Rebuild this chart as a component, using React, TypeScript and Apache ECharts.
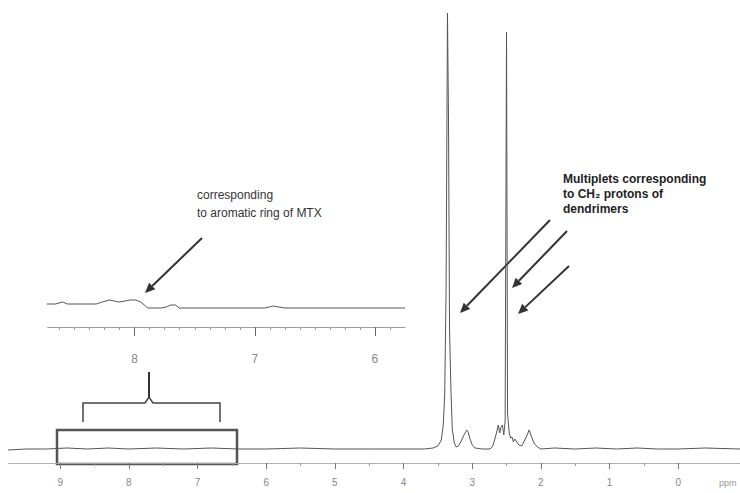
import { useEffect, useRef } from "react";
import * as echarts from "echarts";

// Main spectrum tick labels (ppm)
const mainTicks = [9, 8, 7, 6, 5, 4, 3, 2, 1, 0];
const mainMinorTicks = [8.5, 7.5, 6.5, 5.5, 4.5, 3.5, 2.5, 1.5, 0.5];
// Inset tick labels (ppm)
const insetTicks = [8, 7, 6];
const insetMinorTicks = [8.625, 8.5, 8.375, 8.25, 8.125, 7.875, 7.75, 7.625, 7.5, 7.375, 7.25, 7.125, 6.875, 6.75, 6.625, 6.5, 6.375, 6.25, 6.125, 5.875];

// Main 1H NMR spectrum: [ppm, intensity]
const mainSpectrum: [number, number][] = [
  [9.76, -1], [9.5, 0], [9.2, 0], [8.9, 1], [8.6, 0], [8.3, 1], [8.0, 0], [7.6, 1],
  [7.2, 0], [6.8, 1], [6.4, 0], [6.0, 0], [5.5, 1], [5.0, 0], [4.5, 0], [4.0, 0],
  [3.7, 0], [3.57, 1], [3.5, 3], [3.45, 9], [3.42, 25], [3.4, 56], [3.38, 160],
  [3.36, 436], [3.345, 330], [3.33, 120], [3.31, 60], [3.29, 20], [3.26, 6],
  [3.23, 2], [3.2, 3], [3.16, 8], [3.12, 14], [3.08, 19], [3.06, 17], [3.03, 10],
  [3.0, 4], [2.96, 1], [2.85, 0], [2.74, 0], [2.7, 3], [2.67, 10], [2.64, 18],
  [2.62, 24], [2.6, 16], [2.58, 22], [2.56, 24], [2.54, 14], [2.52, 28],
  [2.5, 417], [2.485, 35], [2.46, 16], [2.44, 11], [2.42, 12], [2.4, 7],
  [2.38, 10], [2.36, 8], [2.32, 4], [2.28, 3], [2.24, 8], [2.2, 14], [2.17, 19],
  [2.14, 13], [2.1, 6], [2.05, 2], [2.0, 0], [1.8, 1], [1.5, 0], [1.2, 1],
  [0.9, 0], [0.6, 1], [0.3, 0], [0.0, 0], [-0.4, 1], [-0.9, 0],
];

// Inset (aromatic region): [ppm, intensity]
const insetSpectrum: [number, number][] = [
  [8.73, 2], [8.66, 2], [8.6, 4], [8.56, 2], [8.4, 2], [8.32, 2], [8.27, 4],
  [8.21, 6], [8.17, 5], [8.13, 4], [8.08, 5], [8.04, 6], [7.99, 6], [7.95, 4],
  [7.91, 0], [7.89, -2], [7.78, -2], [7.74, -1], [7.7, 1], [7.66, 1], [7.63, -2],
  [7.4, -2], [7.1, -2], [6.92, -2], [6.88, -1], [6.85, 0], [6.8, -1], [6.75, -2],
  [6.4, -2], [6.0, -2], [5.75, -2],
];

function arrow(x1: number, y1: number, x2: number, y2: number) {
  const dx = x2 - x1;
  const dy = y2 - y1;
  const len = Math.sqrt(dx * dx + dy * dy);
  const ux = dx / len;
  const uy = dy / len;
  const hl = 10;
  const hw = 4.5;
  const bx = x2 - ux * hl;
  const by = y2 - uy * hl;
  return [
    {
      type: "line",
      shape: { x1, y1, x2: bx, y2: by },
      style: { stroke: "#333", lineWidth: 2 },
      silent: true,
    },
    {
      type: "polygon",
      shape: {
        points: [
          [x2, y2],
          [bx - uy * hw, by + ux * hw],
          [bx + uy * hw, by - ux * hw],
        ],
      },
      style: { fill: "#333" },
      silent: true,
    },
  ];
}

export default function App() {
  const ref = useRef<HTMLDivElement>(null);

  useEffect(() => {
    if (!ref.current) return;
    const chart = echarts.init(ref.current, null, { renderer: "svg" });
    const font = "Liberation Sans, Arial, sans-serif";

    chart.setOption({
      animation: false,
      backgroundColor: "#ffffff",
      grid: [
        { left: 8, right: 0, top: 0, bottom: 30 },
        { left: 47, right: 335, top: 280, bottom: 166 },
      ],
      xAxis: [
        {
          gridIndex: 0,
          type: "value",
          inverse: true,
          min: -0.9,
          max: 9.76,
          axisLine: { onZero: false, lineStyle: { color: "#aaa", width: 1, type: "dotted" } },
          axisTick: { show: true, customValues: mainTicks, length: 6, lineStyle: { color: "#777" } },
          axisLabel: {
            customValues: mainTicks,
            color: "#888",
            fontSize: 10,
            margin: 14,
            fontFamily: font,
          },
          splitLine: { show: false },
        },
        {
          gridIndex: 1,
          type: "value",
          inverse: true,
          min: 5.75,
          max: 8.73,
          axisLine: { onZero: false, lineStyle: { color: "#999", width: 1, type: "dotted" } },
          axisTick: { show: true, customValues: insetTicks, length: 9, lineStyle: { color: "#666" } },
          axisLabel: {
            customValues: insetTicks,
            color: "#888",
            fontSize: 12,
            margin: 26,
            fontFamily: font,
          },
          splitLine: { show: false },
        },
        {
          gridIndex: 1,
          type: "value",
          inverse: true,
          position: "bottom",
          min: 5.75,
          max: 8.73,
          axisLine: { show: true, onZero: false, lineStyle: { color: "#999", width: 0.5, type: "dotted" } },
          axisTick: { show: true, customValues: insetMinorTicks, length: 3, lineStyle: { color: "#999" } },
          axisLabel: { show: false },
          splitLine: { show: false },
        },
        {
          gridIndex: 0,
          type: "value",
          inverse: true,
          position: "bottom",
          min: -0.9,
          max: 9.76,
          axisLine: { show: true, onZero: false, lineStyle: { color: "#aaa", width: 0.5, type: "dotted" } },
          axisTick: { show: true, customValues: mainMinorTicks, length: 3, lineStyle: { color: "#999" } },
          axisLabel: { show: false },
          splitLine: { show: false },
        },
      ],
      yAxis: [
        { gridIndex: 0, type: "value", min: -14, max: 449, show: false },
        { gridIndex: 1, type: "value", min: -21, max: 26, show: false },
      ],
      series: [
        {
          type: "line",
          xAxisIndex: 0,
          yAxisIndex: 0,
          data: mainSpectrum,
          showSymbol: false,
          lineStyle: { color: "#555", width: 1 },
          silent: true,
        },
        {
          type: "line",
          xAxisIndex: 1,
          yAxisIndex: 1,
          data: insetSpectrum,
          showSymbol: false,
          lineStyle: { color: "#555", width: 1 },
          silent: true,
        },
      ],
      graphic: [
        {
          type: "rect",
          shape: { x: 57, y: 430, width: 180, height: 34 },
          style: { fill: "none", stroke: "#555", lineWidth: 2.5 },
          silent: true,
        },
        {
          type: "polyline",
          shape: {
            points: [
              [83, 422], [83, 403], [145, 403], [149, 397], [153, 403], [220, 403], [220, 422],
            ],
          },
          style: { stroke: "#444", lineWidth: 1.5, fill: "none" },
          silent: true,
        },
        {
          type: "line",
          shape: { x1: 149, y1: 397, x2: 149, y2: 372 },
          style: { stroke: "#333", lineWidth: 2 },
          silent: true,
        },
        ...arrow(202, 238, 145, 293),
        ...arrow(550, 220, 460, 313),
        ...arrow(567, 231, 512, 288),
        ...arrow(569, 266, 518, 314),
        {
          type: "text",
          x: 197,
          y: 186,
          style: {
            text: "corresponding\nto aromatic ring of MTX",
            fill: "#333",
            font: `12px ${font}`,
            lineHeight: 18,
          },
          silent: true,
        },
        {
          type: "text",
          x: 563,
          y: 171,
          style: {
            text: "Multiplets corresponding\nto CH₂ protons of\ndendrimers",
            fill: "#222",
            font: `bold 12px ${font}`,
            lineHeight: 15,
          },
          silent: true,
        },
        {
          type: "text",
          x: 719,
          y: 478,
          style: { text: "ppm", fill: "#999", font: `9px ${font}` },
          silent: true,
        },
      ],
    });

    return () => chart.dispose();
  }, []);

  return (
    <div
      ref={ref}
      style={{ position: "fixed", left: 0, top: 0, width: 740, height: 493 }}
    />
  );
}
